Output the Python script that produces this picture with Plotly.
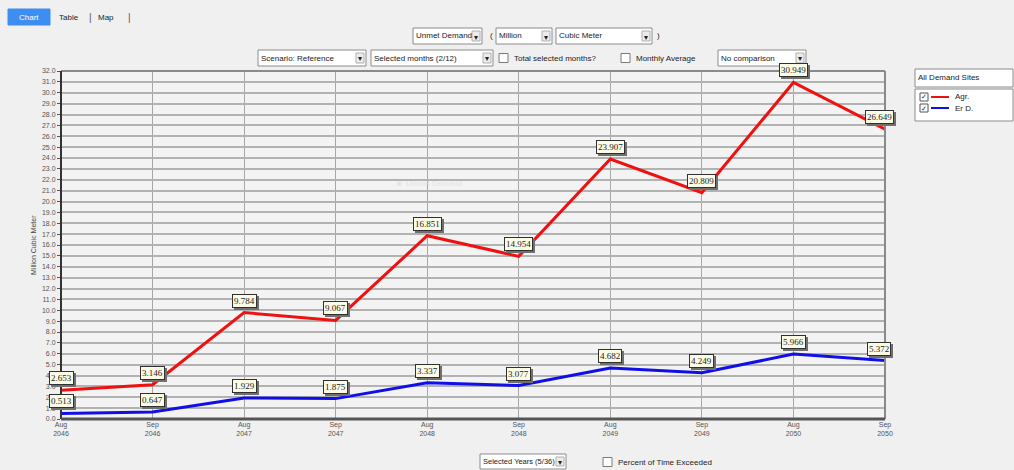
import plotly.graph_objects as go

# ---------------- data ----------------
periods = ["Aug<br>2046", "Sep<br>2046", "Aug<br>2047", "Sep<br>2047", "Aug<br>2048",
           "Sep<br>2048", "Aug<br>2049", "Sep<br>2049", "Aug<br>2050", "Sep<br>2050"]
agr = [2.653, 3.146, 9.784, 9.067, 16.851, 14.954, 23.907, 20.809, 30.949, 26.649]
erd = [0.513, 0.647, 1.929, 1.875, 3.337, 3.077, 4.682, 4.249, 5.966, 5.372]
series_names = ["Agr.", "Er D."]
y_ticks = [float(v) for v in range(0, 33)]
y_title = "Million Cubic Meter"

# ---------------- geometry ----------------
W, H = 1014, 470
L, R, T, B = 61, 885, 71, 419


def fx(p):
    return (p - L) / (R - L)


def fy(p):
    return (B - p) / (B - T)


FONT = "Liberation Sans, Arial, sans-serif"
colors = ["#f01010", "#1010e6"]

fig = go.Figure()
xs = list(range(len(periods)))
for name, vals, col in zip(series_names, [agr, erd], colors):
    fig.add_trace(go.Scatter(x=xs, y=vals, mode="lines", name=name,
                             line=dict(color=col, width=3), showlegend=False,
                             hoverinfo="x+y"))

shapes = []
annotations = []

# data labels with shadow
LBL_FONT = "Liberation Serif, serif"
for vals in [agr, erd]:
    for i, v in enumerate(vals):
        xsft = -6 if i == len(vals) - 1 else 0
        txt = f"{v:.3f}"
        annotations.append(dict(x=i, y=v, xref="x", yref="y", text=txt, showarrow=False,
                                yshift=12 - 2, xshift=xsft + 2, bgcolor="#707070",
                                bordercolor="#707070", borderwidth=1, borderpad=1,
                                font=dict(family=LBL_FONT, size=9, color="#707070")))
        annotations.append(dict(x=i, y=v, xref="x", yref="y", text=txt, showarrow=False,
                                yshift=12, xshift=xsft, bgcolor="#fbfbe6",
                                bordercolor="#303030", borderwidth=1, borderpad=1,
                                font=dict(family=LBL_FONT, size=9, color="#222")))

# plot frame
shapes.append(dict(type="line", xref="paper", yref="paper", x0=0, x1=1, y0=1, y1=1,
                   line=dict(color="#8a8a8a", width=2)))
shapes.append(dict(type="line", xref="paper", yref="paper", x0=1, x1=1, y0=0, y1=1,
                   line=dict(color="#8a8a8a", width=2)))
shapes.append(dict(type="line", xref="paper", yref="paper", x0=0, x1=0, y0=0, y1=1,
                   line=dict(color="#333333", width=2)))
shapes.append(dict(type="line", xref="paper", yref="paper", x0=0, x1=1, y0=0, y1=0,
                   line=dict(color="#555555", width=3)))


def text(x, y, s, size=8, color="#222", anchor="left", angle=0):
    annotations.append(dict(x=fx(x), y=fy(y), xref="paper", yref="paper", text=s,
                            showarrow=False, xanchor=anchor, yanchor="middle",
                            textangle=angle, font=dict(family=FONT, size=size, color=color)))


def rect(x0, y0, x1, y1, fill="#ffffff", line="#8c8c8c", width=1):
    shapes.append(dict(type="rect", xref="paper", yref="paper", x0=fx(x0), x1=fx(x1),
                       y0=fy(y1), y1=fy(y0), fillcolor=fill, line=dict(color=line, width=width)))


def dropdown(x0, y0, x1, y1, label, arrow=True, size=8):
    rect(x0, y0, x1, y1)
    text(x0 + 1, (y0 + y1) / 2, label, size=size)
    if arrow:
        rect(x1 - 10, y0 + 3, x1 - 2, y1 - 3, fill="#ececec", line="#b0b0b0")
        text(x1 - 6, (y0 + y1) / 2 + 1, "▾", size=8, anchor="center")


def checkbox(x, y, label):
    rect(x, y - 4.5, x + 9, y + 4.5, fill="#ffffff", line="#7a7a7a")
    text(x + 13, y, label, size=8)


# tabs
rect(8, 9, 50, 25, fill="#3d8ef0", line="#3d8ef0")
text(29, 17, "Chart", size=8, color="#ffffff", anchor="center")
text(57, 17, "Table", size=8)
text(87, 17, "|", size=10, color="#555")
text(96, 17, "Map", size=8)
text(126, 17, "|", size=10, color="#555")

# top controls
dropdown(413, 28, 482, 44, "Unmet Demand")
text(488, 36, "(", size=8)
dropdown(496, 28, 552, 44, "Million")
dropdown(556, 28, 652, 44, "Cubic Meter")
text(655, 36, ")", size=8)

dropdown(258, 50, 366, 66, "Scenario: Reference")
dropdown(371, 50, 493, 66, "Selected months (2/12)")
checkbox(499, 58, "Total selected months?")
checkbox(621, 58, "Monthly Average")
dropdown(718, 50, 806, 66, "No comparison")

# right side: site selector and legend
dropdown(915, 69, 1013, 87, "All Demand Sites", arrow=False)
rect(915, 89, 1013, 121, fill="#ffffff", line="#8c8c8c")
for k, (name, col) in enumerate(zip(series_names, colors)):
    yy = 97 + k * 11
    rect(920, yy - 4, 928, yy + 4, fill="#ffffff", line="#555")
    text(924, yy, "✓", size=7, color="#222", anchor="center")
    shapes.append(dict(type="line", xref="paper", yref="paper", x0=fx(931), x1=fx(949),
                       y0=fy(yy), y1=fy(yy), line=dict(color=col, width=2)))
    text(953, yy, name, size=8)

# bottom controls
dropdown(480, 454, 566, 469, "Selected Years (5/36)", size=7.5)
checkbox(603, 462, "Percent of Time Exceeded")

# y axis title
text(33, 245, y_title, size=7, color="#444", anchor="center", angle=-90)

# faint watermark
text(395, 183, "■  Unmet Demand", size=8, color="#e4e4e4")

fig.update_layout(
    width=W, height=H,
    margin=dict(l=L, r=W - R, t=T, b=H - B, pad=0),
    paper_bgcolor="#f0f0f0", plot_bgcolor="#f3f3f3",
    shapes=shapes, annotations=annotations,
    font=dict(family=FONT, size=7, color="#444"),
    showlegend=False,
)
fig.update_xaxes(range=[0, len(periods) - 1], tickvals=xs, ticktext=periods,
                 showgrid=True, gridcolor="#a6a6a6", gridwidth=1, zeroline=False,
                 showline=False, ticks="", tickfont=dict(size=7, color="#555"), fixedrange=True)
fig.update_yaxes(range=[0, 32], tickvals=y_ticks, ticktext=[f"{v:.1f}" for v in y_ticks],
                 showgrid=True, gridcolor="#b2b2b2", gridwidth=1.5, zeroline=False,
                 showline=False, ticks="outside", ticklen=3, tickcolor="#555",
                 tickfont=dict(size=7, color="#555"), fixedrange=True)

fig.write_html("out.html", config={"displayModeBar": False},
               post_script="document.body.style.margin='0';")
